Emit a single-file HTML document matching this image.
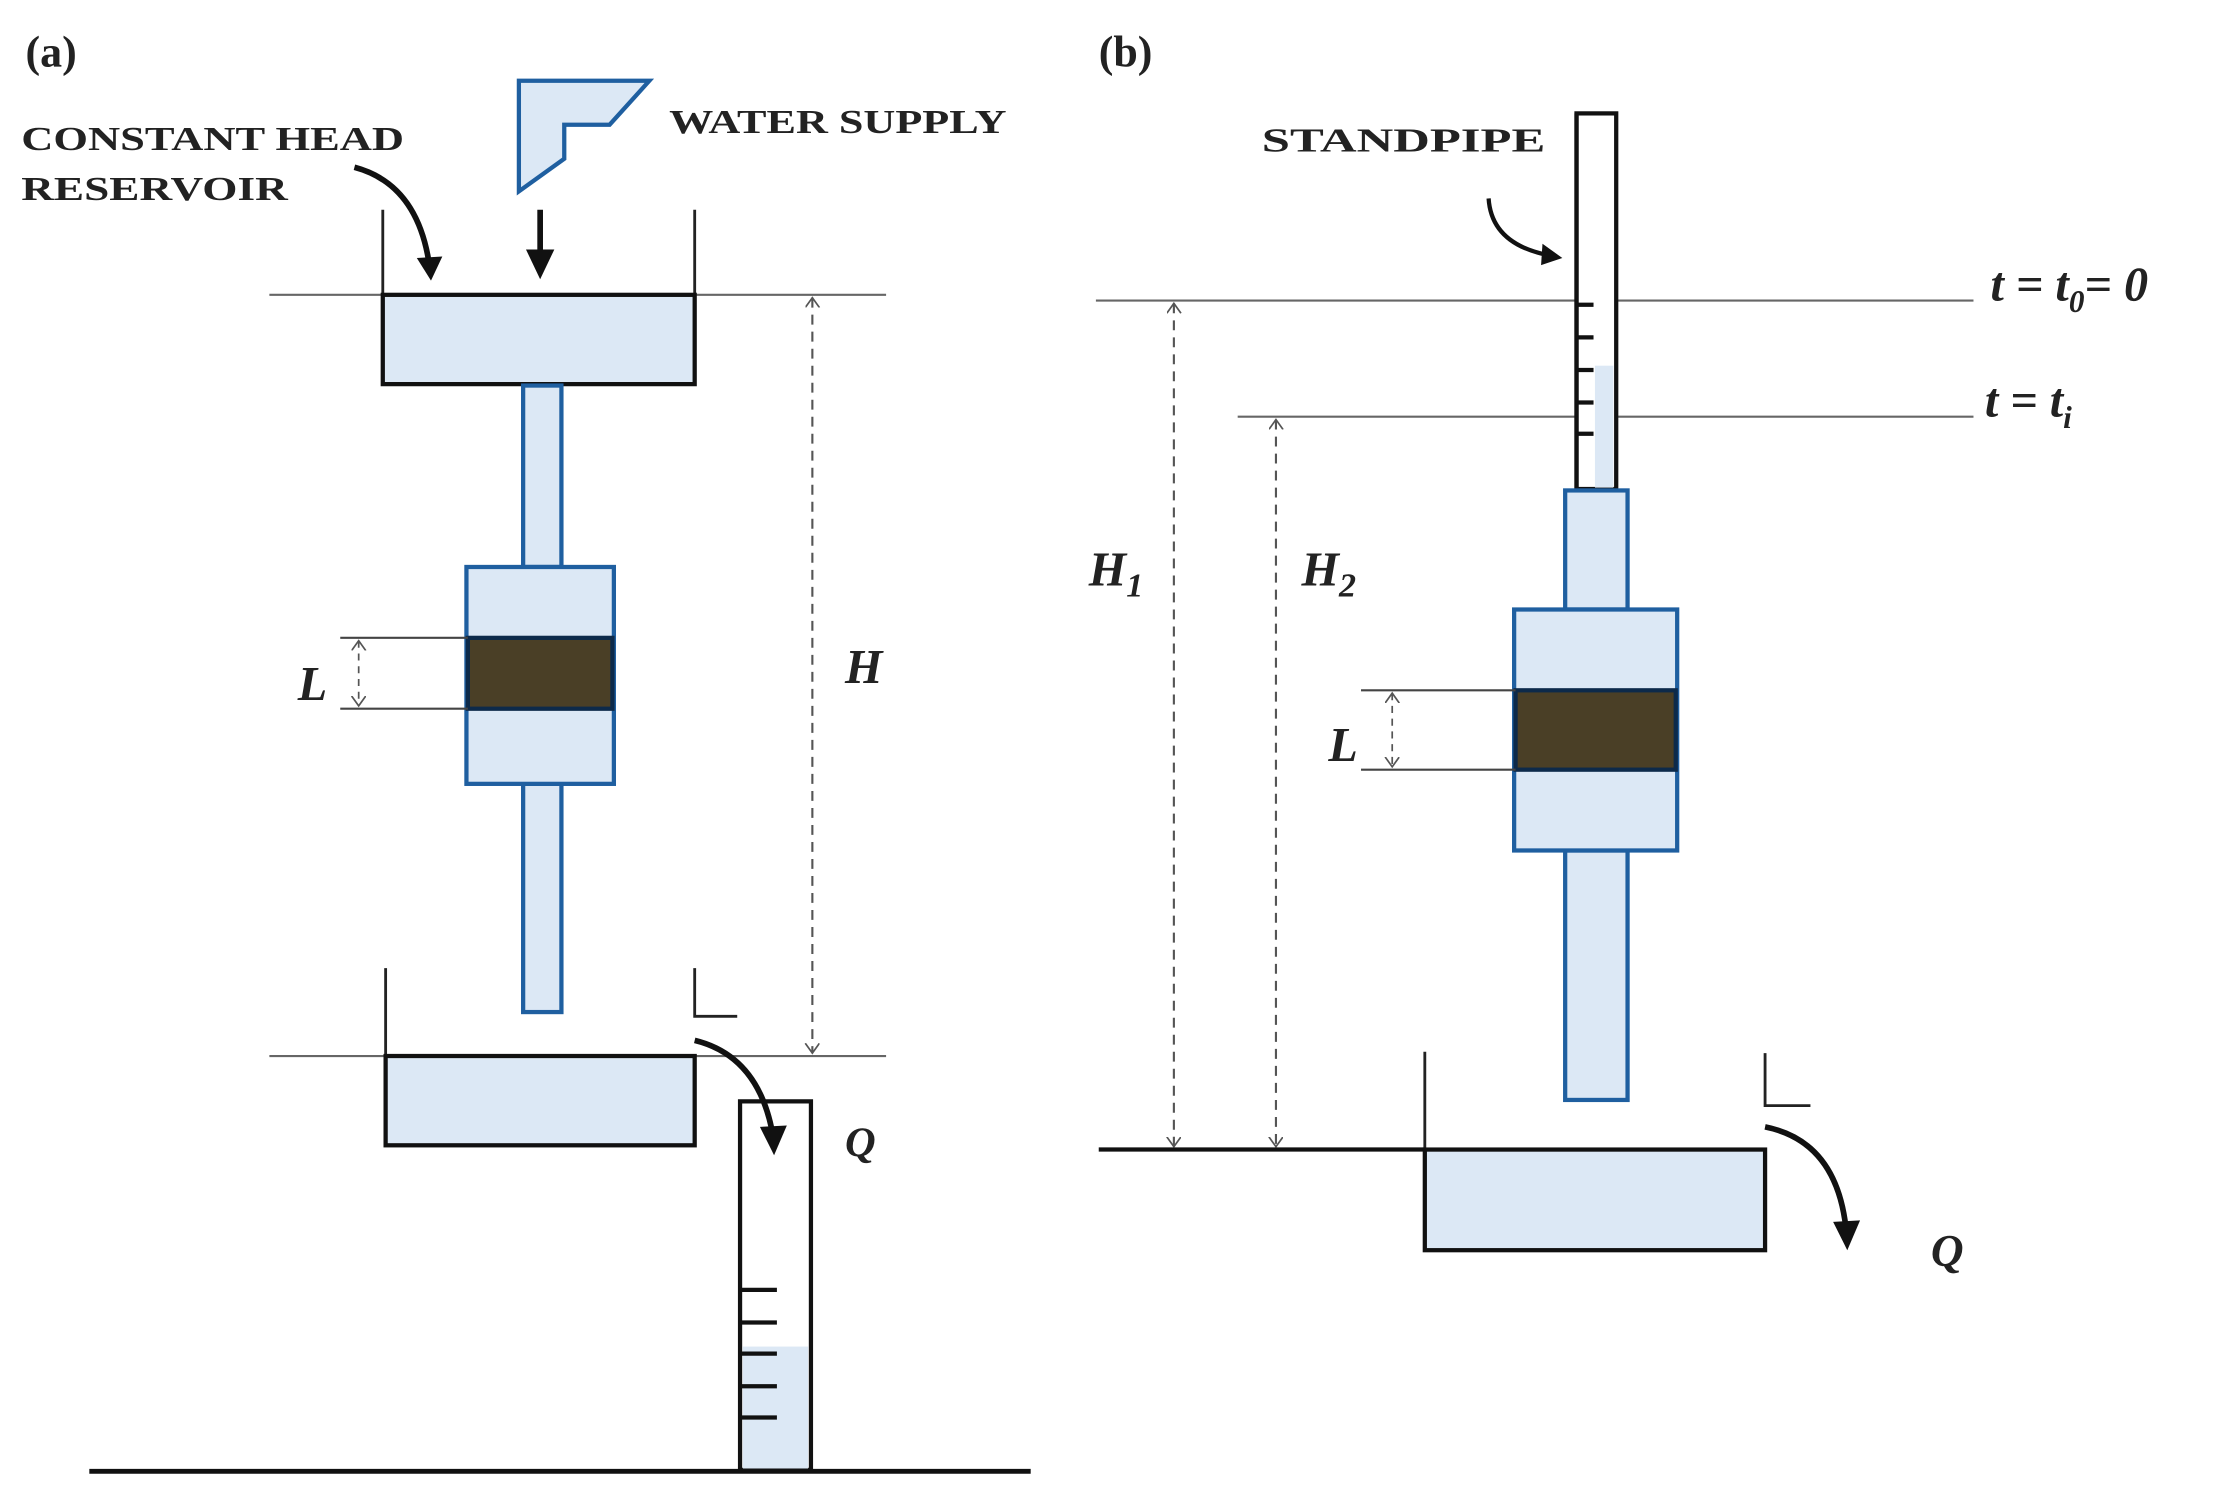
<!DOCTYPE html>
<html><head><meta charset="utf-8"><style>html,body{margin:0;padding:0;background:#fff}svg{display:block}</style></head>
<body>
<svg width="2223" height="1494" viewBox="0 0 1568 1054" preserveAspectRatio="none" xmlns="http://www.w3.org/2000/svg" font-family="'Liberation Serif', serif">
<defs>
<marker id="ah" markerWidth="12" markerHeight="12" refX="7" refY="5" orient="auto-start-reverse" markerUnits="userSpaceOnUse"><path d="M0,0 L7,5 L0,10" fill="none" stroke="#555" stroke-width="1.2"/></marker>
</defs>
<rect width="1568" height="1054" fill="#fff"/>
<g font-weight="bold" fill="#222">
<text x="18" y="47" font-size="31">(a)</text>
<text x="775" y="47" font-size="31">(b)</text>
<text x="15" y="106" font-size="24" textLength="270" lengthAdjust="spacingAndGlyphs">CONSTANT HEAD</text>
<text x="15" y="141" font-size="24" textLength="188" lengthAdjust="spacingAndGlyphs">RESERVOIR</text>
<text x="472" y="94" font-size="24" textLength="238" lengthAdjust="spacingAndGlyphs">WATER SUPPLY</text>
<text x="890" y="107" font-size="24" textLength="200" lengthAdjust="spacingAndGlyphs">STANDPIPE</text>
</g>
<g font-weight="bold" font-style="italic" fill="#222" font-size="34">
<text x="210" y="494">L</text>
<text x="596" y="482">H</text>
<text x="596" y="816" font-size="30">Q</text>
<text x="937" y="537">L</text>
<text x="768" y="413">H<tspan font-size="24" dy="8">1</tspan></text>
<text x="918" y="413">H<tspan font-size="24" dy="8">2</tspan></text>
<text x="1362" y="893" font-size="32">Q</text>
<text x="1404" y="212">t = t<tspan font-size="22" dy="8">0</tspan><tspan dy="-8">= 0</tspan></text>
<text x="1400" y="294">t = t<tspan font-size="22" dy="8">i</tspan></text>
</g>
<!-- (a) -->
<path d="M366,57 L458,57 L430,88 L398,88 L398,112 L366,135 Z" fill="#dce8f5" stroke="#1f5fa0" stroke-width="3"/>
<line x1="190" y1="208" x2="625" y2="208" stroke="#666" stroke-width="1.5"/>
<line x1="190" y1="745" x2="625" y2="745" stroke="#666" stroke-width="1.5"/>
<line x1="270" y1="148" x2="270" y2="208" stroke="#222" stroke-width="2"/>
<line x1="490" y1="148" x2="490" y2="208" stroke="#222" stroke-width="2"/>
<rect x="270" y="208" width="220" height="63" fill="#dce8f5" stroke="#111" stroke-width="3"/>
<rect x="369" y="272" width="27" height="128" fill="#dce8f5" stroke="#1f5fa0" stroke-width="3"/>
<rect x="369" y="553" width="27" height="161" fill="#dce8f5" stroke="#1f5fa0" stroke-width="3"/>
<rect x="329" y="400" width="104" height="153" fill="#dce8f5" stroke="#1f5fa0" stroke-width="3"/>
<rect x="330" y="450" width="102" height="50" fill="#4a3f26" stroke="#0d2a4a" stroke-width="3"/>
<line x1="240" y1="450" x2="330" y2="450" stroke="#444" stroke-width="1.5"/>
<line x1="240" y1="500" x2="330" y2="500" stroke="#444" stroke-width="1.5"/>
<line x1="253" y1="452" x2="253" y2="498" stroke="#555" stroke-width="1.2" stroke-dasharray="5,4" marker-start="url(#ah)" marker-end="url(#ah)"/>
<line x1="573" y1="210" x2="573" y2="743" stroke="#555" stroke-width="1.5" stroke-dasharray="7,5" marker-start="url(#ah)" marker-end="url(#ah)"/>
<path d="M250,118 Q295,130 303,188" fill="none" stroke="#111" stroke-width="4"/>
<path d="M294,182 L304,198 L312,181 Z" fill="#111"/>
<line x1="381" y1="148" x2="381" y2="180" stroke="#111" stroke-width="4"/>
<path d="M371,176 L381,197 L391,176 Z" fill="#111"/>
<line x1="272" y1="683" x2="272" y2="745" stroke="#222" stroke-width="2"/>
<rect x="272" y="745" width="218" height="63" fill="#dce8f5" stroke="#111" stroke-width="3"/>
<path d="M490,683 L490,717 L520,717" fill="none" stroke="#222" stroke-width="2"/>
<rect x="522" y="777" width="50" height="260" fill="#fff" stroke="#111" stroke-width="3"/>
<rect x="524" y="950" width="46" height="86" fill="#dce8f5"/>
<g stroke="#111" stroke-width="3"><line x1="522" y1="910" x2="548" y2="910"/><line x1="522" y1="933" x2="548" y2="933"/><line x1="522" y1="955" x2="548" y2="955"/><line x1="522" y1="978" x2="548" y2="978"/><line x1="522" y1="1000" x2="548" y2="1000"/></g>
<path d="M490,734 Q535,745 545,800" fill="none" stroke="#111" stroke-width="4"/>
<path d="M536,795 L546,815 L555,794 Z" fill="#111"/>
<line x1="63" y1="1038" x2="727" y2="1038" stroke="#111" stroke-width="3.5"/>
<!-- (b) -->
<line x1="773" y1="212" x2="1392" y2="212" stroke="#666" stroke-width="1.5"/>
<line x1="873" y1="294" x2="1392" y2="294" stroke="#666" stroke-width="1.5"/>
<rect x="1112" y="80" width="28" height="265" fill="#fff" stroke="#111" stroke-width="3"/>
<rect x="1125" y="258" width="13" height="86" fill="#dce8f5"/>
<g stroke="#111" stroke-width="3"><line x1="1112" y1="215" x2="1124" y2="215"/><line x1="1112" y1="238" x2="1124" y2="238"/><line x1="1112" y1="261" x2="1124" y2="261"/><line x1="1112" y1="284" x2="1124" y2="284"/><line x1="1112" y1="306" x2="1124" y2="306"/></g>
<line x1="1112" y1="80" x2="1112" y2="345" stroke="#111" stroke-width="3"/>
<path d="M1050,140 Q1052,172 1092,180" fill="none" stroke="#111" stroke-width="3"/>
<path d="M1088,172 L1102,182 L1087,187 Z" fill="#111"/>
<rect x="1104" y="346" width="44" height="84" fill="#dce8f5" stroke="#1f5fa0" stroke-width="3"/>
<rect x="1104" y="600" width="44" height="176" fill="#dce8f5" stroke="#1f5fa0" stroke-width="3"/>
<rect x="1068" y="430" width="115" height="170" fill="#dce8f5" stroke="#1f5fa0" stroke-width="3"/>
<rect x="1069" y="487" width="113" height="56" fill="#4a3f26" stroke="#0d2a4a" stroke-width="3"/>
<line x1="960" y1="487" x2="1069" y2="487" stroke="#444" stroke-width="1.5"/>
<line x1="960" y1="543" x2="1069" y2="543" stroke="#444" stroke-width="1.5"/>
<line x1="982" y1="489" x2="982" y2="541" stroke="#555" stroke-width="1.2" stroke-dasharray="5,4" marker-start="url(#ah)" marker-end="url(#ah)"/>
<line x1="828" y1="214" x2="828" y2="809" stroke="#555" stroke-width="1.5" stroke-dasharray="7,5" marker-start="url(#ah)" marker-end="url(#ah)"/>
<line x1="900" y1="296" x2="900" y2="809" stroke="#555" stroke-width="1.5" stroke-dasharray="7,5" marker-start="url(#ah)" marker-end="url(#ah)"/>
<line x1="775" y1="811" x2="1005" y2="811" stroke="#111" stroke-width="3"/>
<line x1="1005" y1="742" x2="1005" y2="811" stroke="#222" stroke-width="2"/>
<rect x="1005" y="811" width="240" height="71" fill="#dce8f5" stroke="#111" stroke-width="3"/>
<path d="M1245,743 L1245,780 L1277,780" fill="none" stroke="#222" stroke-width="2"/>
<path d="M1245,795 Q1295,805 1302,866" fill="none" stroke="#111" stroke-width="4"/>
<path d="M1293,862 L1303,882 L1312,861 Z" fill="#111"/>
</svg>
</body></html>
